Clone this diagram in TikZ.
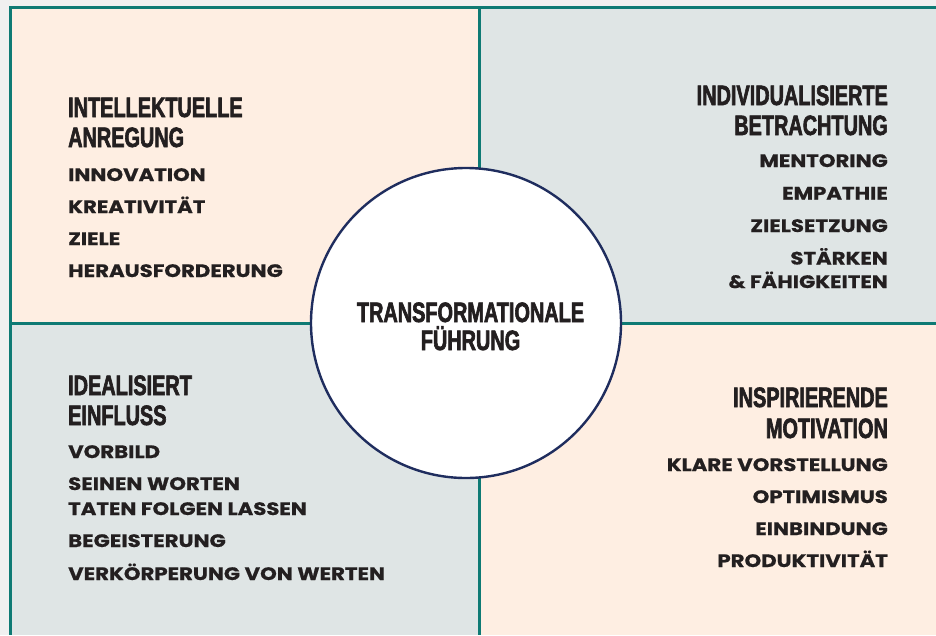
\documentclass[tikz,border=0pt]{standalone}
\usepackage{fontspec}
\setmainfont{Poppins}[FakeStretch=1.18,BoldFeatures={FakeBold=0.7}]
\newfontfamily\headfont{Liberation Sans}[UprightFont=* Bold,FakeStretch=0.71,FakeBold=2.2]
\definecolor{paper}{RGB}{240,240,240}
\definecolor{peach}{RGB}{254,238,226}
\definecolor{mist}{RGB}{223,229,229}
\definecolor{frameteal}{RGB}{14,122,116}
\definecolor{navy}{RGB}{31,45,94}
\definecolor{ink}{RGB}{35,31,32}
\begin{document}
\begin{tikzpicture}[x=1pt,y=-1pt,
    head/.style={font=\headfont\fontsize{28}{29}\selectfont,text=ink,inner sep=0pt},
    item/.style={font=\bfseries\fontsize{18}{25}\selectfont,text=ink,inner sep=0pt}]
  \useasboundingbox (0,0) rectangle (936,635);
  % quadrants
  \fill[paper] (0,0) rectangle (936,635);
  \fill[peach] (10,7) rectangle (479,323);
  \fill[mist] (479,7) rectangle (936,323);
  \fill[mist] (10,323) rectangle (479,635);
  \fill[peach] (479,323) rectangle (936,635);
  \draw[frameteal,line width=3pt] (936,7) -- (10,7) -- (10,635);
  \draw[frameteal,line width=3pt] (479,7) -- (479,635);
  \draw[frameteal,line width=3pt] (10,323) -- (936,323);
  % centre
  \node[circle,draw=navy,fill=white,line width=2.4pt,minimum size=310pt] (core) at (466,323) {};
  \node[head,anchor=base] (core1) at (470.5,322) {TRANSFORMATIONALE};
  \node[head,anchor=base] (core2) at (470.5,350) {FÜHRUNG};
  % top left
  \node[head,anchor=base west] (tl1) at (68,117) {INTELLEKTUELLE};
  \node[head,anchor=base west] (tl2) at (68,147) {ANREGUNG};
  \foreach \t [count=\i] in {INNOVATION,KREATIVITÄT,ZIELE,HERAUSFORDERUNG}
    \node[item,anchor=base west] (tla\i) at (68,{181+32*(\i-1)}) {\t};
  % top right
  \node[head,anchor=base east] (tr1) at (888,105) {INDIVIDUALISIERTE};
  \node[head,anchor=base east] (tr2) at (888,135) {BETRACHTUNG};
  \foreach \t [count=\i] in {MENTORING,EMPATHIE,ZIELSETZUNG,STÄRKEN}
    \node[item,anchor=base east] (tra\i) at (888,{167+32.5*(\i-1)}) {\t};
  \node[item,anchor=base east] (tra5) at (888,288) {\& FÄHIGKEITEN};
  % bottom left
  \node[head,anchor=base west] (bl1) at (68,395) {IDEALISIERT};
  \node[head,anchor=base west] (bl2) at (68,425) {EINFLUSS};
  \node[item,anchor=base west] (bla1) at (68,458) {VORBILD};
  \node[item,anchor=base west] (bla2) at (68,490) {SEINEN WORTEN};
  \node[item,anchor=base west] (bla3) at (68,515) {TATEN FOLGEN LASSEN};
  \node[item,anchor=base west] (bla4) at (68,547) {BEGEISTERUNG};
  \node[item,anchor=base west] (bla5) at (68,580) {VERKÖRPERUNG VON WERTEN};
  % bottom right
  \node[head,anchor=base east] (br1) at (888,407) {INSPIRIERENDE};
  \node[head,anchor=base east] (br2) at (888,438) {MOTIVATION};
  \foreach \t [count=\i] in {KLARE VORSTELLUNG,OPTIMISMUS,EINBINDUNG,PRODUKTIVITÄT}
    \node[item,anchor=base east] (bra\i) at (888,{471+32*(\i-1)}) {\t};
\end{tikzpicture}
\end{document}
